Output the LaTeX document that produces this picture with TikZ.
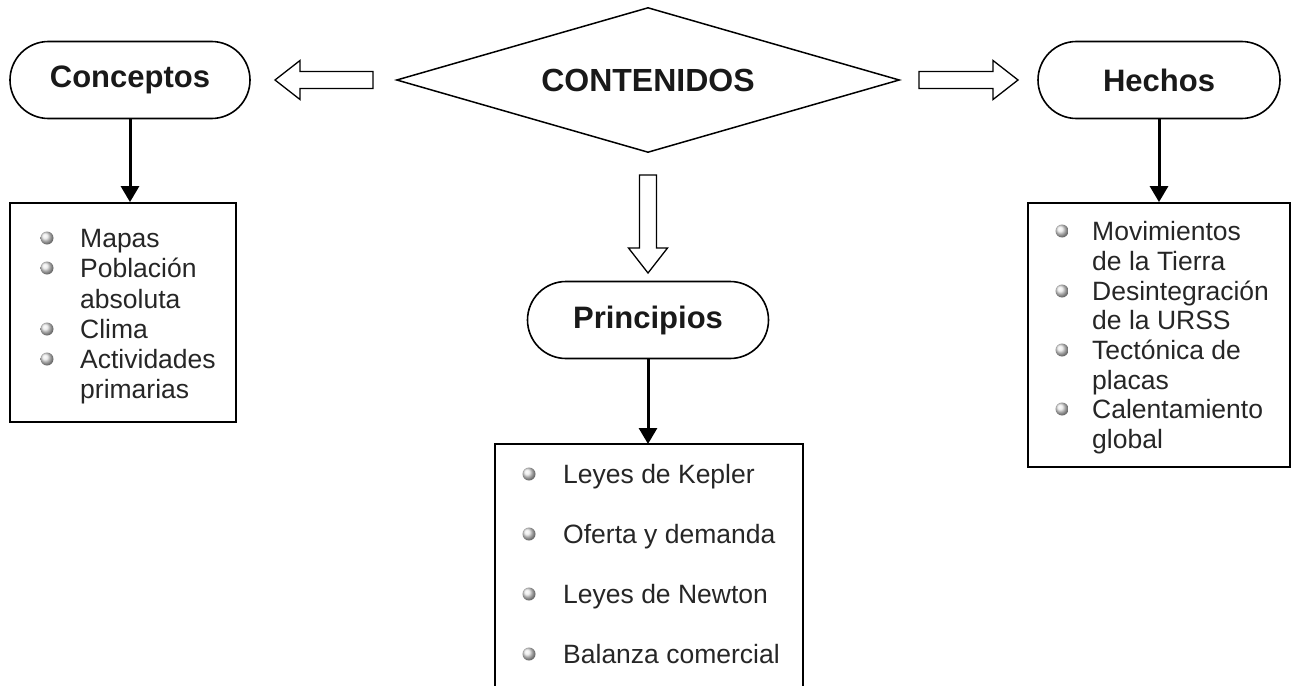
\documentclass[tikz,border=0pt]{standalone}
\usepackage{fontspec}
\setmainfont{Liberation Sans}
\usetikzlibrary{shapes.geometric,shapes.misc,arrows.meta,calc}
\newcommand\hollowarrow[2]{%
  \coordinate (ha-h) at ($(#2)!25pt!(#1)$);
  \draw[hollowst] ($(#1)!8.5pt!90:(#2)$) -- ($(ha-h)!8.5pt!90:(#2)$) -- ($(ha-h)!19.5pt!90:(#2)$) -- (#2)
    -- ($(ha-h)!19.5pt!-90:(#2)$) -- ($(ha-h)!8.5pt!-90:(#2)$) -- ($(#1)!8.5pt!-90:(#2)$) -- cycle;}
\begin{document}
\begin{tikzpicture}[x=1pt,y=-1pt,
  title/.style={rounded rectangle, draw, line width=1.6pt, minimum width=240pt, minimum height=77pt,
    font=\fontsize{31}{36}\selectfont\bfseries, inner sep=0, text=black!90},
  listbox/.style={draw, line width=1.8pt, inner sep=0},
  item/.style={anchor=base west, inner sep=0, font=\fontsize{26.5}{30}\selectfont, text=black!85},
  bul/.style={circle, inner sep=0, minimum size=13pt, shading=ball, ball color=gray!18},
  hollowst/.style={draw, line width=1.3pt, fill=white, line join=miter},
  blk/.style={line width=3pt, -{Triangle[width=18pt,length=16pt]}}]

\useasboundingbox (0,0) rectangle (1292,685);

% central diamond and titles
\node[diamond, draw, line width=1.5pt, aspect=3.47, minimum width=503pt, minimum height=145pt,
  inner sep=0, font=\fontsize{32}{36}\selectfont\bfseries, text=black!90] (cont) at (648,80) {CONTENIDOS};
\node[title] (conc) at (130,80) {Conceptos};
\node[title, minimum width=242pt] (hech) at (1159,80) {Hechos};
\node[title, minimum width=241pt] (prin) at (648,320) {Principios};

% hollow arrows
\coordinate (lt) at (373,80); \coordinate (lh) at (275,80);
\coordinate (rt) at (919,80); \coordinate (rh) at (1018,80);
\coordinate (dt) at (648,175); \coordinate (dh) at (648,273);
\hollowarrow{lt}{lh}
\hollowarrow{rt}{rh}
\hollowarrow{dt}{dh}

% list boxes
\node[listbox, minimum width=226pt, minimum height=219pt] (cbox) at (123,312.5) {};
\node[listbox, minimum width=262pt, minimum height=264pt] (hbox) at (1159,335) {};
\coordinate (pbox) at (648,444);
\draw[line width=1.8pt] (495,690) |- (pbox) -| (803,690);

% black arrows
\draw[blk] (conc.south) -- (conc.south |- cbox.north);
\draw[blk] (hech.south) -- (hbox.north);
\draw[blk] (prin.south) -- (pbox);

% Conceptos items
\node[bul] (cb1) at (47,238) {};
\node[item] (c1) at (80,247) {Mapas};
\node[bul] (cb2) at (47,268) {};
\node[item] (c2) at (80,277) {Población};
\node[item] (c3) at (80,308) {absoluta};
\node[bul] (cb3) at (47,329) {};
\node[item] (c4) at (80,338) {Clima};
\node[bul] (cb4) at (47,359) {};
\node[item] (c5) at (80,368) {Actividades};
\node[item] (c6) at (80,398) {primarias};

% Hechos items
\node[bul] (hb1) at (1062,231) {};
\node[item] (h1) at (1092,240) {Movimientos};
\node[item] (h2) at (1092,270) {de la Tierra};
\node[bul] (hb2) at (1062,291) {};
\node[item] (h3) at (1092,300) {Desintegración};
\node[item] (h4) at (1092,329) {de la URSS};
\node[bul] (hb3) at (1062,350) {};
\node[item] (h5) at (1092,359) {Tectónica de};
\node[item] (h6) at (1092,389) {placas};
\node[bul] (hb4) at (1062,409) {};
\node[item] (h7) at (1092,418) {Calentamiento};
\node[item] (h8) at (1092,448) {global};

% Principios items
\node[bul] (pb1) at (529,474) {};
\node[item] (p1) at (563,483) {Leyes de Kepler};
\node[bul] (pb2) at (529,534) {};
\node[item] (p2) at (563,543) {Oferta y demanda};
\node[bul] (pb3) at (529,594) {};
\node[item] (p3) at (563,603) {Leyes de Newton};
\node[bul] (pb4) at (529,654) {};
\node[item] (p4) at (563,663) {Balanza comercial};
\end{tikzpicture}
\end{document}
